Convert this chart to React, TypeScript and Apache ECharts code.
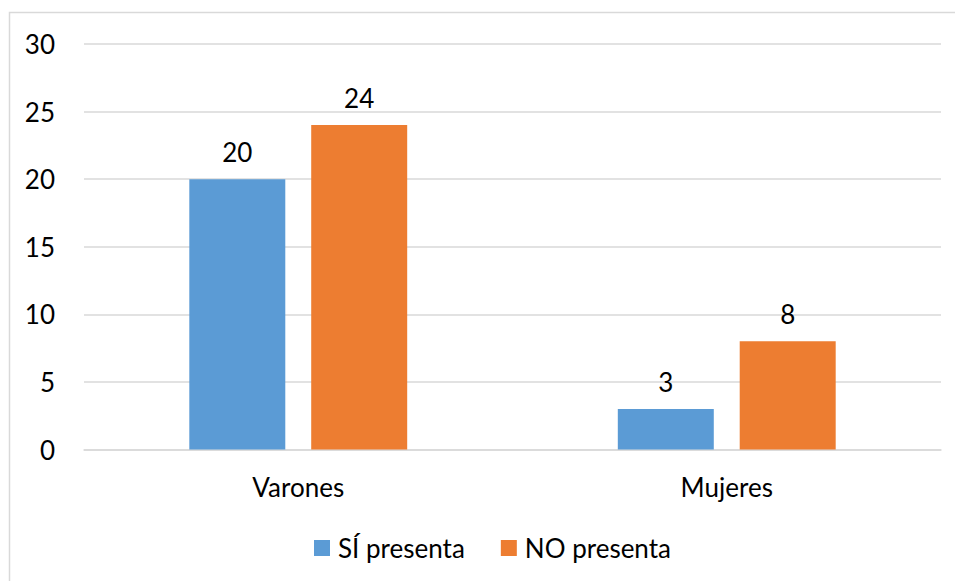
import React, { useEffect, useRef } from "react";
import * as echarts from "echarts";

const categories = ["Varones", "Mujeres"];
const siPresenta = [20, 3];
const noPresenta = [24, 8];
const seriesNames = ["SÍ presenta", "NO presenta"];

const FONT = "Lato, 'Liberation Sans', sans-serif";
const FS = 26;

export default function App() {
  const ref = useRef<HTMLDivElement>(null);
  useEffect(() => {
    if (!ref.current) return;
    const chart = echarts.init(ref.current, null, { renderer: "svg" });
    chart.setOption({
      animation: false,
      backgroundColor: "#ffffff",
      textStyle: { fontFamily: FONT },
      graphic: [
        {
          type: "rect",
          shape: { x: 9.5, y: 12.5, width: 980, height: 620 },
          style: { fill: "none", stroke: "#d9d9d9", lineWidth: 1.5 },
          silent: true,
        },
      ],
      grid: { left: 84, right: 14, top: 44, bottom: 131.5, containLabel: false },
      legend: {
        top: 530,
        left: 309,
        itemWidth: 16,
        itemHeight: 16,
        itemGap: 36,
        icon: "rect",
        textStyle: { fontSize: FS, color: "#000", fontFamily: FONT, padding: [0, 0, 0, 3] },
        data: seriesNames,
      },
      xAxis: {
        type: "category",
        data: categories,
        axisLine: { show: true, lineStyle: { color: "#d9d9d9", width: 1.5 } },
        axisTick: { show: false },
        axisLabel: { fontSize: FS, color: "#000", margin: 24, fontFamily: FONT },
      },
      yAxis: {
        type: "value",
        min: 0,
        max: 30,
        interval: 5,
        axisLine: { show: false },
        axisTick: { show: false },
        splitLine: { lineStyle: { color: "#d9d9d9", width: 1.5 } },
        axisLabel: { fontSize: FS, color: "#000", margin: 29, fontFamily: FONT },
      },
      series: [
        {
          name: seriesNames[0],
          type: "bar",
          data: siPresenta,
          barWidth: "22.4%",
          barGap: "27%",
          itemStyle: { color: "#5B9BD5" },
          label: { show: true, position: "top", distance: 14, fontSize: FS, color: "#000", fontFamily: FONT },
        },
        {
          name: seriesNames[1],
          type: "bar",
          data: noPresenta,
          barWidth: "22.4%",
          barGap: "27%",
          itemStyle: { color: "#ED7D31" },
          label: { show: true, position: "top", distance: 14, fontSize: FS, color: "#000", fontFamily: FONT },
        },
      ],
    });
    return () => chart.dispose();
  }, []);
  return (
    <div
      ref={ref}
      style={{ position: "fixed", left: 0, top: 0, width: 955, height: 581 }}
    />
  );
}
